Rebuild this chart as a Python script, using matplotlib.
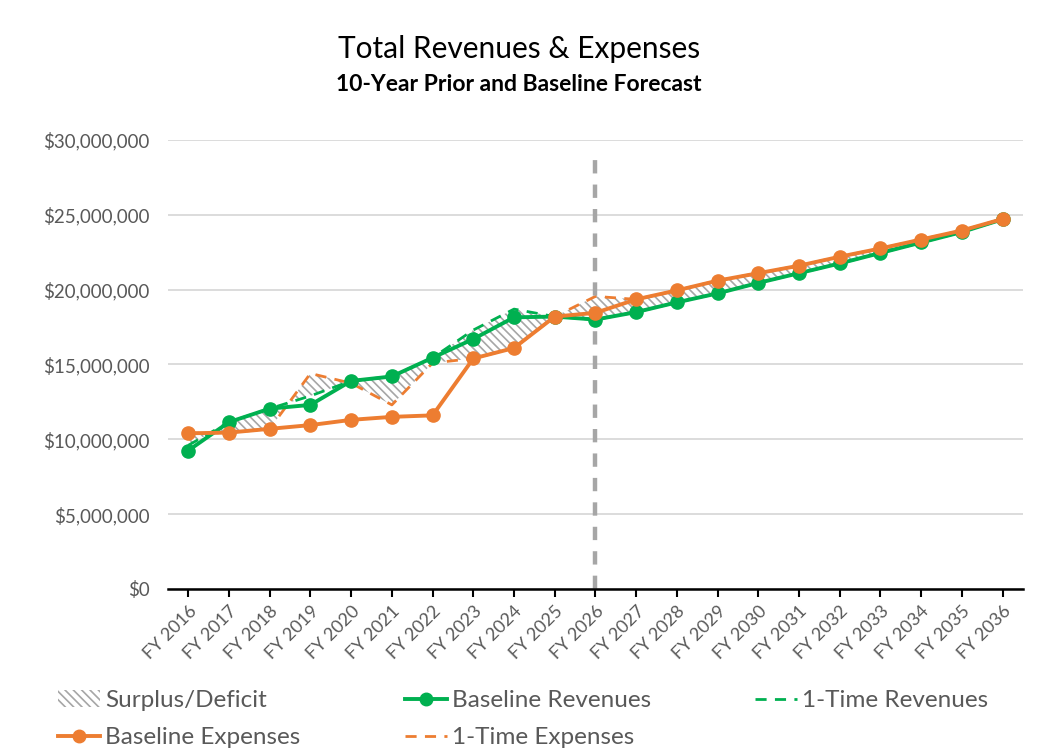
import matplotlib
matplotlib.use("Agg")
import matplotlib.pyplot as plt
import matplotlib.patches as mpatches
from matplotlib.lines import Line2D
from matplotlib.ticker import FuncFormatter

plt.rcParams['font.family'] = ['Lato', 'DejaVu Sans']
plt.rcParams['hatch.linewidth'] = 1.2

# ---- data (values in $ millions) ----
years = ["FY 2016", "FY 2017", "FY 2018", "FY 2019", "FY 2020", "FY 2021", "FY 2022",
         "FY 2023", "FY 2024", "FY 2025", "FY 2026", "FY 2027", "FY 2028", "FY 2029",
         "FY 2030", "FY 2031", "FY 2032", "FY 2033", "FY 2034", "FY 2035", "FY 2036"]
baseline_revenues = [9.25, 11.15, 12.05, 12.3, 13.9, 14.2, 15.45, 16.7, 18.15, 18.2, 18.0,
                     18.5, 19.15, 19.75, 20.45, 21.1, 21.75, 22.45, 23.15, 23.85, 24.7]
baseline_expenses = [10.4, 10.45, 10.7, 10.95, 11.3, 11.5, 11.6, 15.4, 16.1, 18.2, 18.45,
                     19.35, 19.95, 20.6, 21.1, 21.6, 22.2, 22.75, 23.35, 23.95, 24.72]
onetime_revenues = [9.6, 11.15, 12.05, 12.9, 13.9, 14.2, 15.45, 17.3, 18.7, 18.2, 18.0,
                    18.5, 19.15, 19.75, 20.45, 21.1, 21.75, 22.45, 23.15, 23.85, 24.7]
onetime_expenses = [10.4, 10.45, 10.7, 14.4, 13.75, 12.3, 15.1, 15.4, 16.1, 18.2, 19.55,
                    19.35, 19.95, 20.6, 21.1, 21.6, 22.2, 22.75, 23.35, 23.95, 24.72]
forecast_start = "FY 2026"
y_ticks = [0, 5, 10, 15, 20, 25, 30]

GREEN = "#00B050"
ORANGE = "#ED7D31"
GRAY_TXT = "#595959"

M = 1e6
x = list(range(len(years)))
br = [v * M for v in baseline_revenues]
be = [v * M for v in baseline_expenses]
orv = [v * M for v in onetime_revenues]
oe = [v * M for v in onetime_expenses]

fig = plt.figure(figsize=(10.38, 7.55), dpi=100)
ax = fig.add_axes([0.1618, 0.2199, 0.8237, 0.5947])

# surplus/deficit hatch
ax.fill_between(x, orv, oe, facecolor="white", edgecolor="#A6A6A6",
                hatch="\\\\\\\\", linewidth=0, zorder=1)

# 1-time dashed lines
ax.plot(x, oe, color=ORANGE, lw=2.0, ls=(0, (4, 3)), zorder=2)
ax.plot(x, orv, color=GREEN, lw=2.0, ls=(0, (4, 3)), zorder=2)

# forecast divider
fx = years.index(forecast_start)
ax.axvline(fx, ymin=0, ymax=0.978, color="#A6A6A6", lw=3.2, ls=(0, (3, 2.5)), zorder=2.5)

# baseline lines
ax.plot(x, br, color=GREEN, lw=2.8, marker="o", ms=9.5, zorder=3)
ax.plot(x, be, color=ORANGE, lw=2.8, marker="o", ms=9.5, zorder=4)

ax.set_xlim(-0.5, len(years) - 0.5)
ax.set_ylim(0, 30 * M)
ax.set_yticks([t * M for t in y_ticks])
ax.yaxis.set_major_formatter(FuncFormatter(lambda v, p: "${:,.0f}".format(v)))
ax.grid(axis="y", color="#D9D9D9", lw=1.3, zorder=0)
ax.set_axisbelow(True)

for s in ["top", "right", "left"]:
    ax.spines[s].set_visible(False)
ax.spines["bottom"].set_color("black")
ax.spines["bottom"].set_linewidth(1.8)
ax.spines["bottom"].set_zorder(5)

ax.set_xticks(x)
ax.set_xticklabels(years, rotation=45, ha="right", rotation_mode="anchor")
ax.tick_params(axis="x", direction="out", length=6, width=1.5, color="black",
               labelsize=13, labelcolor=GRAY_TXT, pad=4)
ax.tick_params(axis="y", length=0, labelsize=13.5, labelcolor=GRAY_TXT, pad=13)

fig.text(0.5, 0.935, "Total Revenues & Expenses", ha="center", va="center",
         fontsize=21.5, color="black")
fig.text(0.5, 0.888, "10-Year Prior and Baseline Forecast", ha="center", va="center",
         fontsize=16.5, fontweight="bold", color="black")

# legend (column-major order to show row-major)
h_surplus = mpatches.Patch(facecolor="white", edgecolor="#A6A6A6", hatch="\\\\\\\\",
                           linewidth=0, label="Surplus/Deficit")
h_brev = Line2D([], [], color=GREEN, lw=2.8, marker="o", ms=9, label="Baseline Revenues")
h_orev = Line2D([], [], color=GREEN, lw=2.0, ls=(0, (4, 3)), label="1-Time Revenues")
h_bexp = Line2D([], [], color=ORANGE, lw=2.8, marker="o", ms=9, label="Baseline Expenses")
h_oexp = Line2D([], [], color=ORANGE, lw=2.0, ls=(0, (4, 3)), label="1-Time Expenses")
handles = [h_surplus, h_bexp, h_brev, h_oexp, h_orev]
leg = fig.legend(handles=handles, labels=[h.get_label() for h in handles],
                 ncol=3, loc="lower left", bbox_to_anchor=(0.035, -0.02),
                 frameon=False, fontsize=17.5, labelcolor=GRAY_TXT,
                 handlelength=1.73, handletextpad=0.2, columnspacing=4.3,
                 labelspacing=0.65)

fig.savefig("out.png", dpi=100)
